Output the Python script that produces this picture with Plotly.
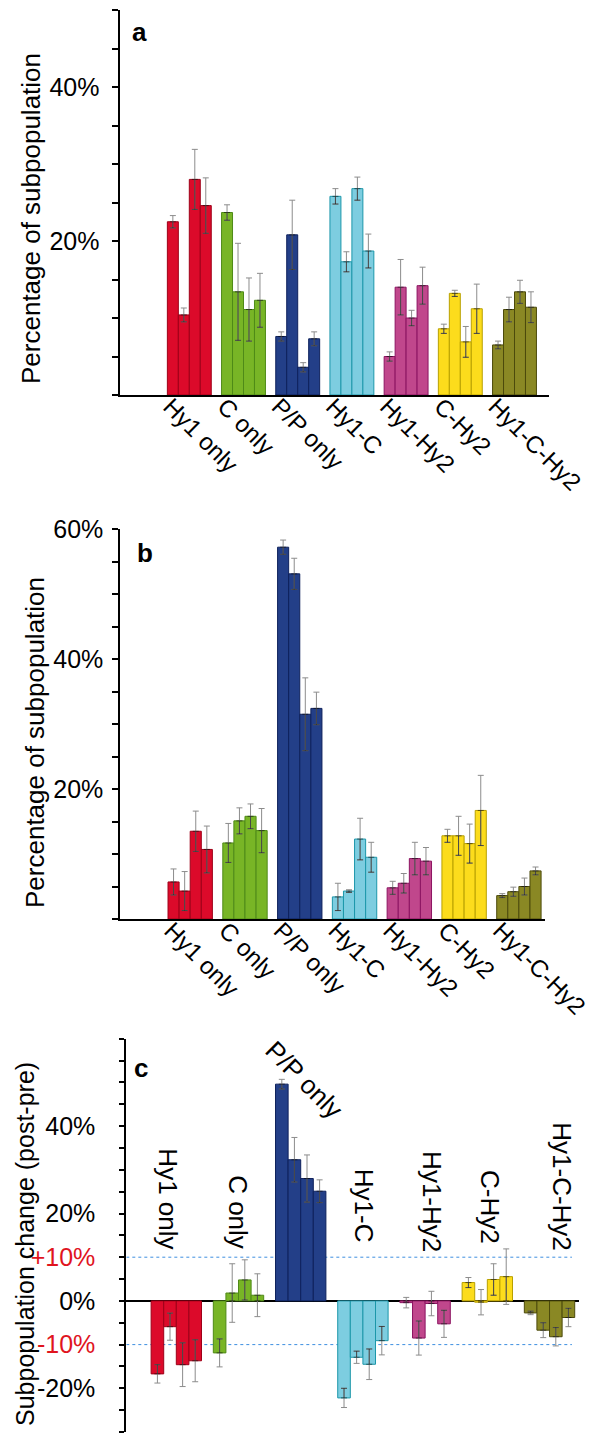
import plotly.graph_objects as go

W, H = 607, 1434

categories = ["Hy1 only", "C only", "P/P only", "Hy1-C", "Hy1-Hy2", "C-Hy2", "Hy1-C-Hy2"]

# Panel a: percentage of subpopulation (4 bars per category)
a_values = [
    [22.5, 10.4, 28.0, 24.6],
    [23.7, 13.4, 11.1, 12.3],
    [7.6, 20.8, 3.6, 7.3],
    [25.8, 17.3, 26.8, 18.7],
    [5.0, 14.0, 10.0, 14.2],
    [8.6, 13.2, 6.9, 11.2],
    [6.5, 11.1, 13.4, 11.4],
]
a_errors = [
    [0.8, 0.9, 3.9, 3.6],
    [1.0, 6.3, 4.1, 3.5],
    [0.6, 4.5, 0.6, 0.9],
    [1.0, 1.3, 1.5, 2.2],
    [0.6, 3.6, 1.0, 2.4],
    [0.6, 0.4, 2.0, 3.2],
    [0.5, 1.6, 1.5, 2.0],
]

# Panel b
b_values = [
    [5.7, 4.3, 13.5, 10.7],
    [11.7, 15.1, 15.8, 13.6],
    [57.2, 53.1, 31.5, 32.4],
    [3.4, 4.3, 12.3, 9.5],
    [4.8, 5.5, 9.3, 8.9],
    [12.8, 12.8, 11.6, 16.7],
    [3.6, 4.2, 5.0, 7.4],
]
b_errors = [
    [2.0, 3.0, 3.1, 3.6],
    [3.0, 2.0, 1.9, 3.4],
    [1.1, 2.4, 5.6, 2.5],
    [2.1, 0.2, 3.2, 2.3],
    [1.0, 1.5, 2.5, 2.1],
    [1.0, 3.0, 3.0, 5.4],
    [0.3, 0.7, 1.3, 0.6],
]

# Panel c: subpopulation change (post - pre)
c_values = [
    [-16.7, -5.9, -14.6, -13.7],
    [-11.9, 1.8, 4.8, 1.3],
    [49.6, 32.3, 28.0, 25.1],
    [-22.2, -12.9, -14.5, -9.1],
    [-0.4, -8.5, -0.6, -5.25],
    [4.2, -0.3, 4.9, 5.55],
    [-2.75, -6.7, -8.2, -3.8],
]
c_errors = [
    [2.1, 3.1, 5.0, 4.8],
    [3.2, 6.7, 4.6, 4.9],
    [1.1, 5.1, 5.4, 2.6],
    [2.2, 1.4, 3.5, 3.25],
    [1.2, 3.9, 2.8, 3.1],
    [1.15, 2.9, 3.6, 6.35],
    [0.4, 1.7, 2.1, 2.1],
]

a_ticks = list(range(0, 51, 5))
a_ticklabels = {20: "20%", 40: "40%"}
b_ticks = list(range(0, 61, 5))
b_ticklabels = {20: "20%", 40: "40%", 60: "60%"}
c_ticks = list(range(-30, 61, 5))
c_ticklabels = {-20: "-20%", -10: "-10%", 0: "0%", 10: "+10%", 20: "20%", 40: "40%"}
c_red_ticks = [-10, 10]

# styles
fill_colors = ["#dc0a2a", "#78b526", "#233f88", "#7dcde0", "#c0478c", "#fcdc1c", "#8a8824"]
edge_colors = ["#9e0018", "#4f8a18", "#0e215c", "#1c97aa", "#8c1462", "#b8a000", "#4c4a0c"]
FONT = "Liberation Sans, Arial, Helvetica, sans-serif"


def px_x(x):
    return x / W


def px_y(y):
    return 1 - y / H


fig = go.Figure()

panels = [
    ("x", "y", a_values, a_errors),
    ("x2", "y2", b_values, b_errors),
    ("x3", "y3", c_values, c_errors),
]

for xa, ya, vals, errs in panels:
    for s in range(4):
        yv = [vals[g][s] for g in range(len(categories))]
        ev = [errs[g][s] for g in range(len(categories))]
        fig.add_trace(go.Bar(
            x=categories, y=yv, xaxis=xa, yaxis=ya, offsetgroup=str(s),
            marker=dict(color=fill_colors, line=dict(color=edge_colors, width=1)),
            error_y=dict(type="data", array=ev, symmetric=True, color="#8c8c8c",
                         thickness=1, width=3),
            showlegend=False, hoverinfo="skip",
        ))
        # darker part of the error bar that lies inside the bar
        plus = [min(e, abs(v)) if v < 0 else 0 for v, e in zip(yv, ev)]
        minus = [min(e, abs(v)) if v >= 0 else 0 for v, e in zip(yv, ev)]
        fig.add_trace(go.Bar(
            x=categories, y=yv, xaxis=xa, yaxis=ya, offsetgroup=str(s),
            marker=dict(color="rgba(0,0,0,0)", line=dict(width=0)),
            error_y=dict(type="data", symmetric=False, array=plus, arrayminus=minus,
                         color="rgba(0,0,0,0.5)", thickness=1, width=3),
            showlegend=False, hoverinfo="skip",
        ))


def ticktext(ticks, labels, red=()):
    out = []
    for t in ticks:
        if t in labels:
            if t in red:
                out.append('<span style="color:#e0141e">' + labels[t] + "</span>")
            else:
                out.append(labels[t])
        else:
            out.append("")
    return out


axis_common = dict(showgrid=False, zeroline=False, linecolor="black", linewidth=2,
                   type="category", automargin=False)
yaxis_common = dict(showgrid=False, linecolor="black", linewidth=2, showline=True,
                    automargin=False, tickmode="array", ticks="outside",
                    tickwidth=1.5, tickcolor="black")

layout = dict(
    template="none",
    width=W, height=H, margin=dict(l=0, r=0, t=0, b=0, autoexpand=False),
    paper_bgcolor="white", plot_bgcolor="white",
    barmode="group", bargap=0.19, bargroupgap=0,
    font=dict(family=FONT, color="black"),
    showlegend=False,
    xaxis=dict(axis_common, domain=[px_x(111.5), px_x(540.7)], range=[-1.288, 6.631],
               anchor="y", showline=True, ticks="", tickangle=45,
               tickfont=dict(size=24, family=FONT),
               ticklabelshift=-19, ticklabelstandoff=-14),
    yaxis=dict(yaxis_common, zeroline=False,
               domain=[px_y(387), px_y(2)], range=[0, 50], anchor="x",
               tickvals=a_ticks, ticktext=ticktext(a_ticks, a_ticklabels), ticklen=6,
               tickfont=dict(size=25, family=FONT), ticklabelstandoff=7),
    xaxis2=dict(axis_common, domain=[px_x(112.3), px_x(537.3)], range=[-1.276, 6.482],
                anchor="y2", showline=True, ticks="", tickangle=45,
                tickfont=dict(size=24, family=FONT),
                ticklabelshift=-19, ticklabelstandoff=-14),
    yaxis2=dict(yaxis_common, zeroline=False,
                domain=[px_y(911), px_y(521)], range=[0, 60], anchor="x2",
                tickvals=b_ticks, ticktext=ticktext(b_ticks, b_ticklabels), ticklen=6,
                tickfont=dict(size=25, family=FONT), ticklabelstandoff=4),
    xaxis3=dict(axis_common, domain=[px_x(118.3), px_x(571)], range=[-0.804, 6.474],
                anchor="y3", showline=False, ticks="", showticklabels=False),
    yaxis3=dict(yaxis_common, zeroline=True, zerolinecolor="black", zerolinewidth=1.5,
                domain=[px_y(1424), px_y(1030.7)], range=[-30, 60], anchor="x3",
                tickvals=c_ticks, ticktext=ticktext(c_ticks, c_ticklabels, c_red_ticks),
                ticklen=5, tickfont=dict(size=25, family=FONT), ticklabelstandoff=19),
)
fig.update_layout(**layout)

# dotted reference lines at +/-10% in panel c
for yv in (10, -10):
    fig.add_shape(type="line", xref="x3", yref="y3", x0=-0.804, x1=6.36, y0=yv, y1=yv,
                  line=dict(color="#3d8fe0", width=1, dash="dot"), layer="below")

# panel letters
for txt, (x, y) in zip(["a", "b", "c"], [(131, 24), (137, 545), (133, 1060)]):
    fig.add_annotation(text="<b>" + txt + "</b>", x=px_x(x), y=px_y(y), xref="paper",
                       yref="paper", xanchor="center", yanchor="middle", showarrow=False,
                       font=dict(size=26, family=FONT))

# y titles
for txt, (x, y), size in [
    ("Percentage of subpopulation", (23, 211), 26),
    ("Percentage of subpopulation", (27, 735), 26),
    ("Subpopulation change (post-pre)", (17, 1236), 25),
]:
    fig.add_annotation(text=txt, x=px_x(x), y=px_y(y), xref="paper", yref="paper",
                       xanchor="center", yanchor="middle", borderpad=0,
                       textangle=-90, showarrow=False, font=dict(size=size, family=FONT))

# category labels of panel c (vertical, above the bars)
c_label_pos = [(-0.13, 11.4), (1.0, 11.5), None, (3.03, 12.9), (4.11, 10.6), (5.04, 12.6), (6.2, 10.8)]
for cat, pos in zip(categories, c_label_pos):
    if pos is None:
        continue
    fig.add_annotation(text=cat, x=pos[0], y=pos[1], xref="x3", yref="y3", textangle=90,
                       xanchor="center", yanchor="bottom", showarrow=False,
                       font=dict(size=26, family=FONT))
fig.add_annotation(text=categories[2], x=2.06, y=50.6, xref="x3", yref="y3", textangle=45,
                   xanchor="center", yanchor="middle",
                   showarrow=False, font=dict(size=26, family=FONT))

fig.write_html("out.html")
